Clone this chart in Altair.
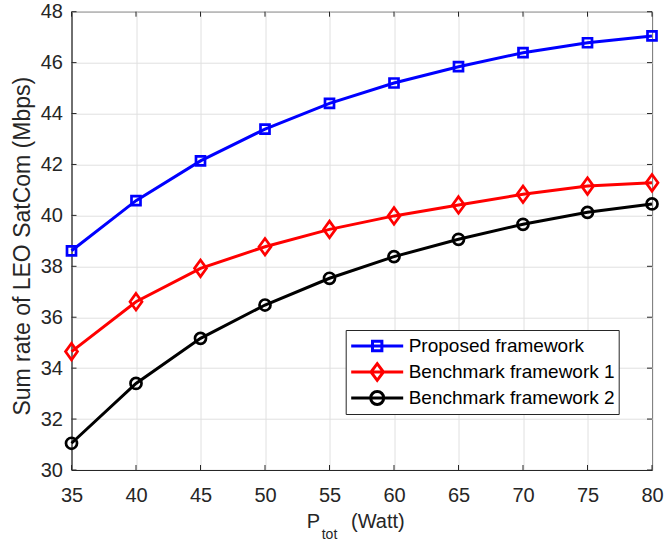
import altair as alt
import pandas as pd

# ---------------- data ----------------
power = [35, 40, 45, 50, 55, 60, 65, 70, 75, 80]
proposed = [38.61, 40.58, 42.14, 43.39, 44.40, 45.20, 45.84, 46.39, 46.78, 47.05]
bench1 = [34.65, 36.61, 37.92, 38.77, 39.45, 39.98, 40.41, 40.83, 41.15, 41.28]
bench2 = [31.05, 33.40, 35.17, 36.48, 37.53, 38.38, 39.06, 39.65, 40.12, 40.45]

series_names = ["Proposed framework", "Benchmark framework 1", "Benchmark framework 2"]
series_colors = ["#0000ff", "#ff0000", "#000000"]

x_ticks = [35, 40, 45, 50, 55, 60, 65, 70, 75, 80]
y_ticks = [30, 32, 34, 36, 38, 40, 42, 44, 46, 48]

y_title = "Sum rate of LEO SatCom (Mbps)"
x_title_main = ["P"]
x_title_sub = ["tot"]
x_title_unit = ["(Watt)"]

# marker shapes (unit paths) for the plot and for the legend (line + marker)
marker_paths = [
    "M-0.75,-0.75H0.75V0.75H-0.75Z",
    "M0,-1.38L1,0L0,1.38L-1,0Z",
    "M0.92,0A0.92,0.92,0,1,1,-0.92,0A0.92,0.92,0,1,1,0.92,0Z",
]
legend_paths = [
    "M-1,0H1M-0.18,-0.18H0.18V0.18H-0.18Z",
    "M-1,0H1M0,-0.32L0.24,0L0,0.32L-0.24,0Z",
    "M-1,0H1M0.25,0A0.25,0.25,0,1,1,-0.25,0A0.25,0.25,0,1,1,0.25,0Z",
]

FONT = "Liberation Sans"
TXT = "#262626"
W, H = 580.5, 458.3

rows = []
for name, vals in zip(series_names, [proposed, bench1, bench2]):
    for p, v in zip(power, vals):
        rows.append({"P": p, "rate": v, "series": name})
df = pd.DataFrame(rows)

xscale = alt.Scale(domain=[35, 80], nice=False, zero=False)
yscale = alt.Scale(domain=[30, 48], nice=False, zero=False)

x_enc = alt.X("P:Q", scale=xscale,
              axis=alt.Axis(values=x_ticks, title=None, ticks=False, tickSize=0,
                            labelFontSize=20, labelColor=TXT, labelPadding=15,
                            labelFlush=False, labelOverlap=False,
                            grid=True, gridColor="#e0e0e0", gridWidth=1,
                            domainColor=TXT, domainWidth=1, format="d"))
y_enc = alt.Y("rate:Q", scale=yscale,
              axis=alt.Axis(values=y_ticks, title=y_title, ticks=False, tickSize=0,
                            labelFontSize=20, labelColor=TXT, labelPadding=9,
                            labelFlush=False, labelOverlap=False,
                            grid=True, gridColor="#e0e0e0", gridWidth=1,
                            domainColor=TXT, domainWidth=1, format="d",
                            titleFontSize=23, titleColor=TXT, titleFontWeight="normal",
                            titleX=-49.5, titleY=234, titleBaseline="middle",
                            titleAngle=270, titleAlign="center"))

color_scale = alt.Scale(domain=series_names, range=series_colors)

base = alt.Chart(df)

lines = base.mark_line(strokeWidth=3).encode(
    x=x_enc, y=y_enc,
    color=alt.Color("series:N", scale=color_scale, legend=None),
)

points = base.mark_point(filled=False, strokeWidth=2.7, size=144, opacity=1).encode(
    x=alt.X("P:Q", scale=xscale),
    y=alt.Y("rate:Q", scale=yscale),
    color=alt.Color("series:N", scale=color_scale, legend=None),
    shape=alt.Shape("series:N", scale=alt.Scale(domain=series_names, range=marker_paths), legend=None),
)

legend_def = alt.Legend(
    orient="none", legendX=274.2, legendY=318.3, title=None,
    labelFont=FONT, labelFontSize=19, labelColor="#000000", labelLimit=600,
    labelOffset=4, symbolSize=2704, symbolStrokeWidth=3, symbolOffset=0,
    padding=4, rowPadding=2, clipHeight=24,
    strokeColor=TXT, fillColor="white", cornerRadius=0,
)

legend_layer = base.transform_filter("datum.rate < 0").mark_point(
    filled=False, strokeWidth=3, opacity=1
).encode(
    x=alt.X("P:Q", scale=xscale),
    y=alt.Y("rate:Q", scale=yscale),
    color=alt.Color("series:N", scale=color_scale, legend=legend_def),
    shape=alt.Shape("series:N", scale=alt.Scale(domain=series_names, range=legend_paths), legend=legend_def),
)

# inward ticks (MATLAB style box with ticks on all four sides)
dfx = pd.DataFrame({"v": x_ticks})
dfy = pd.DataFrame({"v": y_ticks})
tick_len = 5
xt_bottom = alt.Chart(dfx).mark_rule(color=TXT, strokeWidth=1).encode(
    x=alt.X("v:Q", scale=xscale), y=alt.value(H), y2=alt.value(H - tick_len))
xt_top = alt.Chart(dfx).mark_rule(color=TXT, strokeWidth=1).encode(
    x=alt.X("v:Q", scale=xscale), y=alt.value(0), y2=alt.value(tick_len))
yt_left = alt.Chart(dfy).mark_rule(color=TXT, strokeWidth=1).encode(
    y=alt.Y("v:Q", scale=yscale), x=alt.value(0), x2=alt.value(tick_len))
yt_right = alt.Chart(dfy).mark_rule(color=TXT, strokeWidth=1).encode(
    y=alt.Y("v:Q", scale=yscale), x=alt.value(W), x2=alt.value(W - tick_len))

# x-axis title with subscript
t_main = alt.Chart(pd.DataFrame({"t": x_title_main})).mark_text(
    align="left", baseline="alphabetic", font=FONT, fontSize=20, color=TXT
).encode(x=alt.value(235.2), y=alt.value(516.6), text="t:N")
t_sub = alt.Chart(pd.DataFrame({"t": x_title_sub})).mark_text(
    align="left", baseline="alphabetic", font=FONT, fontSize=14, color=TXT
).encode(x=alt.value(250.2), y=alt.value(527.5), text="t:N")
t_unit = alt.Chart(pd.DataFrame({"t": x_title_unit})).mark_text(
    align="left", baseline="alphabetic", font=FONT, fontSize=20, color=TXT
).encode(x=alt.value(279.5), y=alt.value(516.6), text="t:N")

chart = alt.layer(
    lines, points, legend_layer,
    xt_bottom, xt_top, yt_left, yt_right,
    t_main, t_sub, t_unit,
).resolve_scale(
    color="independent", shape="independent"
).properties(
    width=W, height=H,
    autosize=alt.AutoSizeParams(type="none"),
    padding={"left": 71.5, "top": 11.7, "right": 13, "bottom": 71},
    background="white",
).configure_axis(
    labelFont=FONT, titleFont=FONT,
).configure_view(
    stroke=TXT, strokeWidth=1,
)

chart.save("out.html", embed_options={"renderer": "svg", "actions": False})
